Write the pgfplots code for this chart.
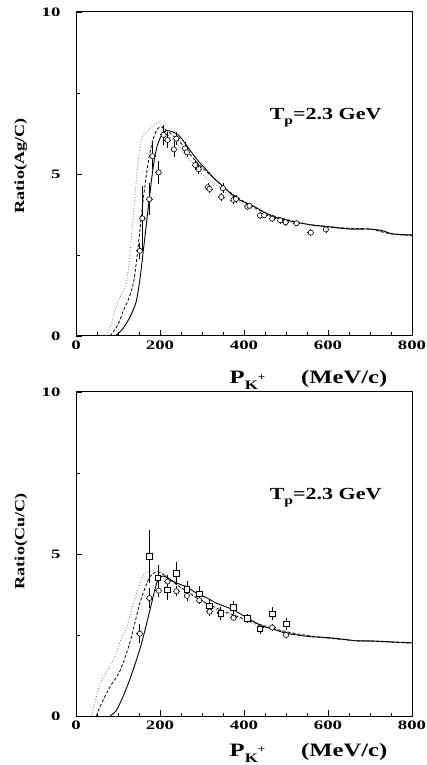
\documentclass[border=0pt]{standalone}
\usepackage{fontspec}
\setmainfont{Liberation Serif}
\newfontfamily\tickfont{Liberation Serif}[FakeStretch=1.45]
\newfontfamily\labfont{Liberation Serif}[FakeStretch=1.3]
\usepackage{pgfplots}
\pgfplotsset{compat=1.18}
\usepackage{pgfplotstable}

% data points (x, y, x error, y error)
\pgfplotstableread{
x     y     ex  ey
152   2.63  8   0.25
158   3.63  8   1.0
174.6 4.22  8   0.5
181.7 5.55  8   0.4
196.8 5.05  8   0.35
208.7 6.21  8   0.3
218   6.05  8   0.25
233   5.76  8   0.25
239   6.09  8   0.2
259.5 5.79  8   0.2
264   5.67  8   0.15
284   5.28  8   0.15
292   5.15  8   0.15
314   4.59  8   0.12
318   4.54  8   0.12
346   4.29  8   0.12
350   4.56  8   0.15
375   4.20  8   0.12
381   4.23  8   0.12
408   3.99  8   0.1
413   4.02  8   0.1
438   3.72  8   0.1
448   3.73  8   0.1
467   3.62  8   0.1
486   3.57  8   0.1
499   3.51  8   0.1
525   3.48  8   0.1
559   3.19  8   0.1
595   3.29  8   0.12
}\agdata

\pgfplotstableread{
x     y     ex  ey
152   2.54  8   0.3
174.6 3.64  8   0.3
197   3.87  8   0.2
218   4.15  8   0.2
239   3.85  8   0.15
264   3.71  8   0.15
293.6 3.57  8   0.12
318   3.22  8   0.12
344.5 3.20  8   0.12
375   3.03  8   0.1
408   2.99  8   0.1
439   2.73  8   0.1
467   2.73  8   0.1
500   2.50  8   0.1
}\cucirc

\pgfplotstableread{
x     y     ex  ey
174.6 4.92  8   0.82
195   4.27  8   0.4
217   3.89  8   0.3
239   4.40  8   0.35
264   3.91  8   0.25
293.6 3.77  8   0.25
318   3.40  8   0.2
344.5 3.17  8   0.2
374.6 3.35  8   0.2
408   3.01  8   0.15
438   2.69  8   0.15
467   3.15  8   0.2
500   2.84  8   0.2
}\cusq

\pgfplotsset{
  panel/.style={
    scale only axis, width=336bp, height=324bp,
    xmin=0, xmax=800, ymin=0, ymax=10,
    xtick={0,200,...,800}, minor xtick={50,100,...,750},
    ytick={0,5,10}, minor ytick={2.5,7.5},
    xtick pos=lower, ytick pos=left, tick align=inside,
    major tick length=6bp, minor tick length=3.5bp,
    axis line style={line width=1pt}, tick style={line width=0.8pt, black},
    /pgf/number format/assume math mode=true,
    tick label style={font=\tickfont\bfseries\fontsize{13}{13}\selectfont},
    yticklabel style={xshift=-12bp},
    xticklabel style={yshift=-1bp},
    ylabel style={anchor=center,
                  font=\labfont\bfseries\fontsize{14}{14}\selectfont},
    xlabel style={anchor=center,
                  font=\labfont\bfseries\fontsize{19}{19}\selectfont},
    xlabel={P\raisebox{-0.32em}{\fontsize{13}{13}\selectfont K\raisebox{0.75em}{\fontsize{10}{10}\selectfont +}}\hspace{36bp}(MeV/c)},
  },
  sol/.style={black, line width=0.9pt, smooth, no markers},
  dsh/.style={black, line width=0.8pt, dash pattern=on 3pt off 2pt, smooth, no markers},
  dot/.style={black!55, line width=0.8pt, dotted, smooth, no markers},
  pts/.style={black, only marks, line width=0.6pt,
    error bars/y dir=both, error bars/y explicit,
    error bars/x dir=both, error bars/x explicit,
    error bars/error mark=none, error bars/error bar style={line width=0.7pt}},
}

\begin{document}
\begin{tikzpicture}
\path[use as bounding box] (0,0) rectangle (427bp,765bp);

\begin{axis}[panel, at={(76bp,429bp)}, anchor=south west, ylabel={Ratio(Ag/C)},
  ylabel style={at={(axis description cs:-0.164,0.525)}},
  xlabel style={at={(axis description cs:0.692,-0.137)}}]
\addplot[dot] coordinates {
(73,0) (85,0.4) (93,0.8) (101,1.1) (121,1.73) (135,3.5) (145,5.0) (155,6.05)
(165,6.25) (180,6.45) (197,6.6) (205,6.5) (220,6.2) (245,5.85) (270,5.45)
(300,5.0) (330,4.7) (360,4.4) (400,4.05) (450,3.75) (500,3.55) (550,3.45)
(600,3.38) (650,3.33) (700,3.3) (750,3.15) (800,3.1)};
\addplot[dsh] coordinates {
(81,0) (100,0.35) (113,0.8) (124,1.1) (138,1.73) (150,3.0) (160,4.2) (170,5.2)
(180,5.9) (190,6.3) (200,6.46) (210,6.4) (225,6.25) (250,5.95) (275,5.55)
(300,5.2) (330,4.85) (360,4.5) (400,4.15) (450,3.8) (500,3.6) (550,3.45)
(600,3.38) (650,3.32) (700,3.3) (750,3.15) (800,3.1)};
\addplot[sol] coordinates {
(93,0) (110,0.2) (125,0.5) (136,0.8) (144,1.1) (152,1.73) (160,2.6) (168,3.5)
(176,4.4) (184,5.23) (192,5.8) (200,6.1) (208,6.28) (216,6.34) (230,6.3)
(244,6.2) (258,5.98) (271,5.74) (290,5.42) (311,5.12) (330,4.85) (351,4.61)
(382,4.25) (422,4.01) (470,3.68) (517,3.53) (565,3.42) (600,3.37) (652,3.3)
(700,3.3) (730,3.25) (755,3.15) (800,3.12)};
\addplot[pts, mark=*, mark size=2.6bp, mark options={fill=white, solid}]
  table[x=x, y=y, x error=ex, y error=ey] {\agdata};
\node[anchor=base west, font=\labfont\bfseries\fontsize{17}{17}\selectfont]
  at (axis cs:453,6.67) {T\raisebox{-0.3em}{\fontsize{12}{12}\selectfont p}=2.3 GeV};
\end{axis}

\begin{axis}[panel, at={(76bp,49bp)}, anchor=south west, ylabel={Ratio(Cu/C)},
  ylabel style={at={(axis description cs:-0.164,0.539)}},
  xlabel style={at={(axis description cs:0.692,-0.114)}}]
\addplot[dot] coordinates {
(37,0) (45,0.4) (57,1.0) (70,1.3) (81,1.55) (95,1.9) (105,2.3) (121,2.76)
(135,3.4) (152,4.1) (164,4.4) (180,4.48) (196,4.5) (216,4.3) (250,3.95)
(280,3.7) (310,3.45) (350,3.2) (400,2.95) (450,2.75) (500,2.58) (550,2.46)
(600,2.4) (650,2.34) (700,2.31) (750,2.28) (800,2.25)};
\addplot[dsh] coordinates {
(49,0) (57,0.28) (81,0.9) (105,1.4) (129,2.3) (152,3.48) (172,4.2) (184,4.4)
(195,4.45) (210,4.35) (240,4.05) (270,3.8) (300,3.55) (340,3.3) (375,3.12)
(420,2.9) (470,2.7) (520,2.55) (570,2.45) (620,2.38) (670,2.32) (720,2.3)
(760,2.27) (800,2.25)};
\addplot[sol] coordinates {
(81,0) (95,0.15) (105,0.4) (120,0.85) (136,1.42) (156,2.24) (176,3.27)
(192,4.1) (202,4.3) (212,4.3) (240,4.1) (263,3.99) (287,3.79) (311,3.65)
(335,3.48) (375,3.27) (438,2.81) (470,2.68) (502,2.55) (557,2.45) (589,2.43)
(630,2.38) (668,2.32) (700,2.32) (748,2.29) (800,2.26)};
\addplot[pts, mark=*, mark size=2.6bp, mark options={fill=white, solid}]
  table[x=x, y=y, x error=ex, y error=ey] {\cucirc};
\addplot[pts, mark=square*, mark size=2.8bp, mark options={fill=white, solid}]
  table[x=x, y=y, x error=ex, y error=ey] {\cusq};
\node[anchor=base west, font=\labfont\bfseries\fontsize{17}{17}\selectfont]
  at (axis cs:453,6.67) {T\raisebox{-0.3em}{\fontsize{12}{12}\selectfont p}=2.3 GeV};
\end{axis}
\end{tikzpicture}
\end{document}
